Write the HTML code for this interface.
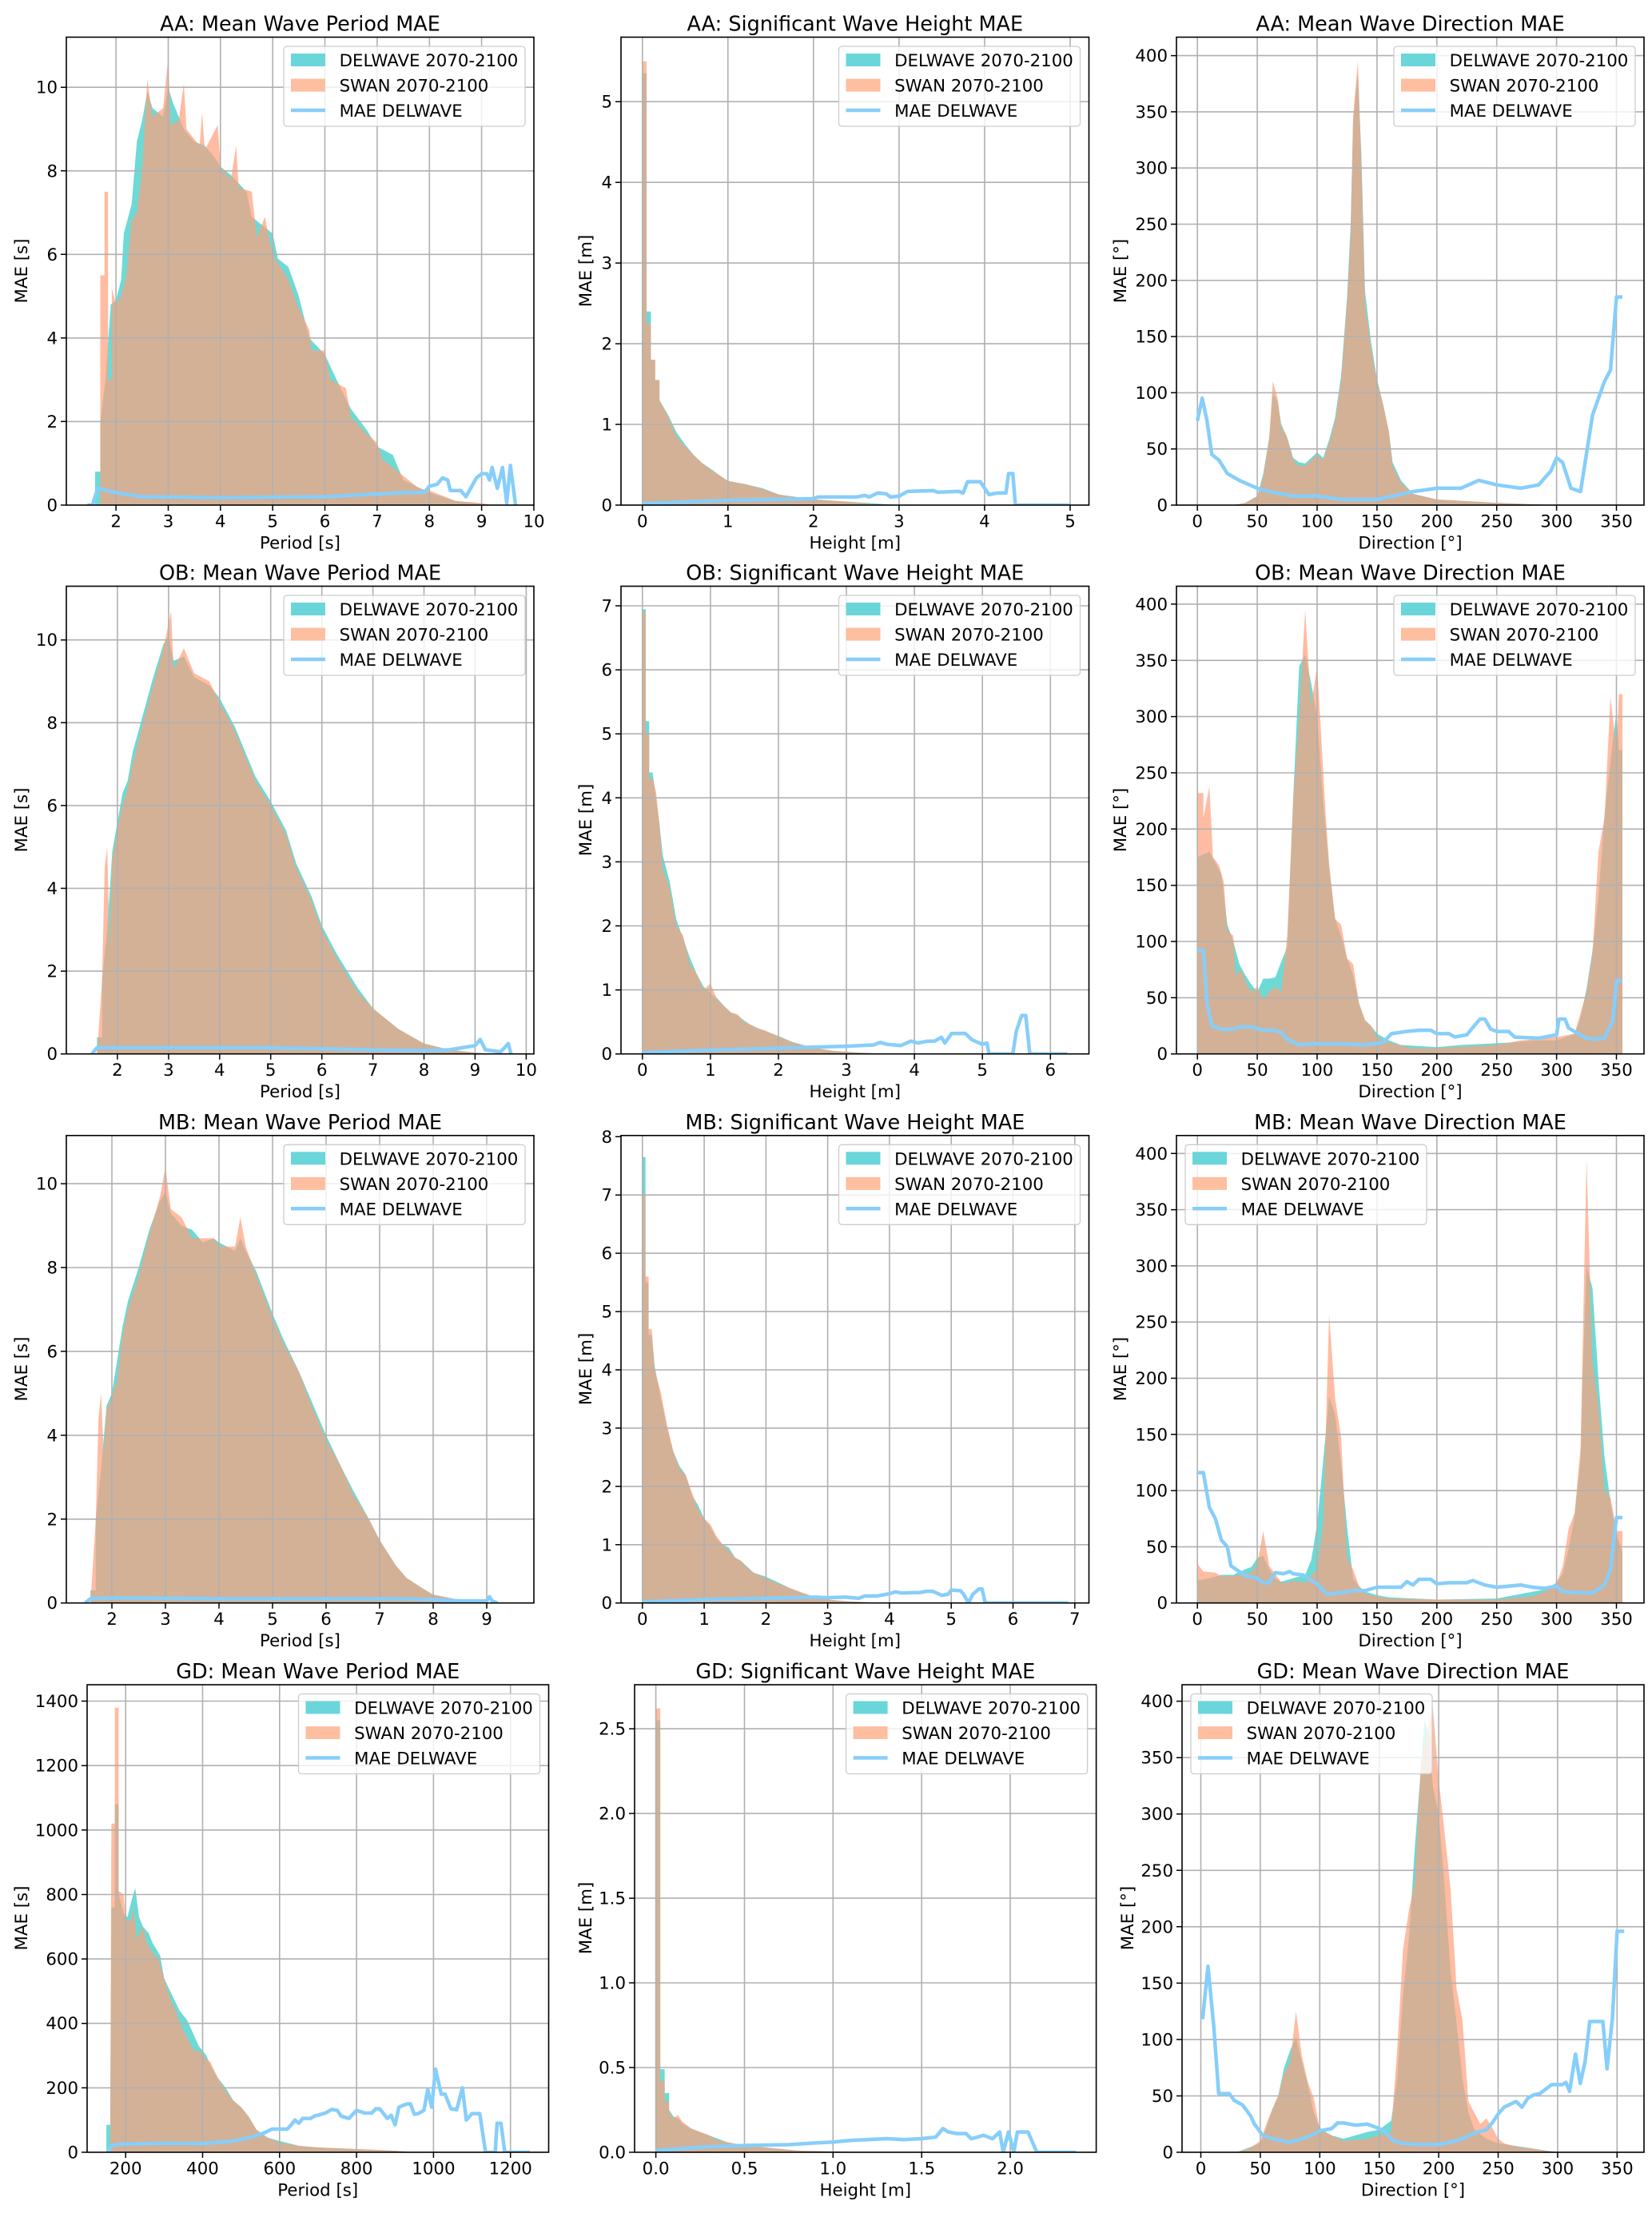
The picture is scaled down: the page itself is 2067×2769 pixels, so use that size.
<!DOCTYPE html>
<html><head><meta charset="utf-8"><style>
html,body{margin:0;padding:0;background:#fff}
svg text{font-family:"DejaVu Sans","Liberation Sans",sans-serif;fill:#000}
.t{font-size:25.5px;text-anchor:middle}
.xt{font-size:21.3px;text-anchor:middle}
.yt{font-size:21.3px;text-anchor:end}
.lb{font-size:21.3px;text-anchor:middle}
.lg{font-size:21.3px}
.g{stroke:#b0b0b0;stroke-width:1.6;fill:none}
.tk{stroke:#000;stroke-width:1.5;fill:none}
.sp{stroke:#000;stroke-width:1.6;fill:none}
.d{fill:#48d1cc;fill-opacity:.8}
.s{fill:#ffa07a;fill-opacity:.7}
.ln{fill:none;stroke:#87cefa;stroke-width:4.5;stroke-linejoin:round}
.lb0{fill:#fff;fill-opacity:.8;stroke:#cccccc;stroke-width:1.3}
</style></head><body>
<svg xmlns="http://www.w3.org/2000/svg" width="2067" height="2764" viewBox="0 0 2067 2764">

<!-- ============ P1 AA period ============ -->
<svg x="83" y="46.5" width="585" height="585.5" viewBox="1.05 -11.2 8.95 11.2" preserveAspectRatio="none"><g transform="scale(1,-1)">
<path class="d" d="M1.6,0 L1.6,0.8 1.7,0.8 1.7,2.0 1.8,3.0 1.9,4.8 2.0,4.9 2.1,5.4 2.15,6.5 2.3,7.2 2.4,8.7 2.5,9.2 2.6,9.9 2.7,9.5 2.9,9.3 3.0,10.0 3.1,9.6 3.3,9.0 3.5,8.7 3.7,8.6 3.9,8.3 4.0,8.1 4.2,7.9 4.5,7.5 4.6,6.9 5.0,6.5 5.1,5.9 5.3,5.7 5.5,5.0 5.7,4.0 6.0,3.6 6.3,2.8 6.5,2.3 6.8,1.8 7.0,1.4 7.3,1.2 7.5,0.6 8.0,0.3 8.5,0.1 9.0,0.03 9.2,0 Z"/>
<path class="s" d="M1.7,0 L1.7,5.5 1.78,5.5 1.78,7.5 1.85,7.5 1.85,3 1.92,3 1.92,5.2 2.0,4.8 2.1,5.0 2.2,5.5 2.3,6.8 2.4,7.0 2.5,8.0 2.6,10.2 2.7,9.3 2.9,9.5 3.0,10.7 3.05,9.1 3.2,9.2 3.3,10.1 3.35,9.0 3.6,8.6 3.65,9.4 3.7,8.5 3.95,9.1 4.0,8.1 4.2,7.8 4.3,8.6 4.35,7.6 4.6,7.5 4.7,6.4 4.85,6.9 5.0,6.0 5.3,5.4 5.5,4.7 5.7,4.2 5.75,3.7 6.0,3.7 6.1,3.0 6.4,2.8 6.5,2.1 6.8,1.7 7.0,1.5 7.1,1.1 7.3,0.9 7.5,0.7 7.8,0.4 8.0,0.35 8.5,0.1 9.0,0.05 9.2,0 Z"/>
</g></svg>
<path class="g" d="M145.1 46.5V632M210.5 46.5V632M275.8 46.5V632M341.2 46.5V632M406.5 46.5V632M471.9 46.5V632M537.3 46.5V632M602.6 46.5V632M83 527.4H668M83 422.9H668M83 318.3H668M83 213.8H668M83 109.2H668"/>
<svg x="83" y="46.5" width="585" height="585.5" viewBox="1.05 -11.2 8.95 11.2" preserveAspectRatio="none"><g transform="scale(1,-1)">
<polyline class="ln" vector-effect="non-scaling-stroke" points="1.45,0 1.55,0 1.6,0.2 1.65,0.4 2,0.3 2.5,0.2 4,0.18 6,0.2 7.5,0.3 7.9,0.3 8.0,0.45 8.15,0.5 8.25,0.65 8.35,0.6 8.4,0.35 8.6,0.35 8.7,0.2 8.9,0.65 9.0,0.75 9.1,0.75 9.15,0.6 9.2,0.9 9.3,0.4 9.4,0.9 9.48,0.05 9.55,0.95 9.65,0"/>
</g></svg>
<rect class="sp" x="83" y="46.5" width="585" height="585.5"/>
<path class="tk" d="M145.1 632v7M210.5 632v7M275.8 632v7M341.2 632v7M406.5 632v7M471.9 632v7M537.3 632v7M602.6 632v7M668 632v7M83 632h-7M83 527.4h-7M83 422.9h-7M83 318.3h-7M83 213.8h-7M83 109.2h-7"/>
<text class="xt" x="145.1" y="659.5">2</text><text class="xt" x="210.5" y="659.5">3</text><text class="xt" x="275.8" y="659.5">4</text><text class="xt" x="341.2" y="659.5">5</text><text class="xt" x="406.5" y="659.5">6</text><text class="xt" x="471.9" y="659.5">7</text><text class="xt" x="537.3" y="659.5">8</text><text class="xt" x="602.6" y="659.5">9</text><text class="xt" x="668" y="659.5">10</text>
<text class="yt" x="72" y="639.5">0</text><text class="yt" x="72" y="534.9">2</text><text class="yt" x="72" y="430.4">4</text><text class="yt" x="72" y="325.8">6</text><text class="yt" x="72" y="221.3">8</text><text class="yt" x="72" y="116.7">10</text>
<text class="t" x="375.5" y="38.5">AA: Mean Wave Period MAE</text>
<text class="lb" x="375.5" y="686.5">Period [s]</text>
<text class="lb" transform="translate(27,339) rotate(-90)" dy="7">MAE [s]</text>
<g transform="translate(355,58)"><rect class="lb0" width="302" height="100" rx="4"/><rect x="9" y="9" width="43" height="16" fill="#6ad6d9"/><rect x="9" y="40.6" width="43" height="16" fill="#fdbf9f"/><path d="M9 80H52" stroke="#87cefa" stroke-width="4.5"/><text class="lg" x="69.6" y="25">DELWAVE 2070-2100</text><text class="lg" x="69.6" y="56.6">SWAN 2070-2100</text><text class="lg" x="69.6" y="88">MAE DELWAVE</text></g>

<!-- ============ P2 AA height ============ -->
<svg x="777" y="46.5" width="585.5" height="585.5" viewBox="-0.25 -5.8 5.47 5.8" preserveAspectRatio="none"><g transform="scale(1,-1)">
<path class="d" d="M0,0 L0,5.35 0.05,5.35 0.05,2.4 0.1,2.4 0.1,1.8 0.15,1.8 0.15,1.55 0.2,1.55 0.2,1.3 0.3,1.12 0.4,0.9 0.5,0.75 0.6,0.62 0.7,0.52 0.8,0.45 0.9,0.37 1.0,0.3 1.2,0.26 1.4,0.21 1.6,0.13 1.8,0.1 2.0,0.07 2.3,0.05 2.6,0.03 3.0,0 Z"/>
<path class="s" d="M0,0 L0,5.5 0.05,5.5 0.05,2.25 0.1,2.25 0.1,1.8 0.15,1.8 0.15,1.55 0.2,1.55 0.2,1.3 0.3,1.1 0.4,0.85 0.5,0.73 0.6,0.62 0.7,0.52 0.8,0.44 0.9,0.37 1.0,0.3 1.2,0.26 1.4,0.2 1.6,0.13 1.8,0.1 2.0,0.07 2.3,0.05 2.6,0.02 3.0,0 Z"/>
</g></svg>
<path class="g" d="M803.8 46.5V632M910.8 46.5V632M1017.8 46.5V632M1124.9 46.5V632M1231.9 46.5V632M1339 46.5V632M777 531H1362.5M777 430.1H1362.5M777 329.1H1362.5M777 228.2H1362.5M777 127.2H1362.5"/>
<svg x="777" y="46.5" width="585.5" height="585.5" viewBox="-0.25 -5.8 5.47 5.8" preserveAspectRatio="none"><g transform="scale(1,-1)">
<polyline class="ln" vector-effect="non-scaling-stroke" points="0,0.02 1,0.06 2,0.08 2.05,0.1 2.5,0.1 2.6,0.12 2.65,0.1 2.75,0.15 2.85,0.14 2.9,0.1 3.0,0.11 3.1,0.17 3.4,0.18 3.45,0.16 3.7,0.17 3.75,0.15 3.8,0.29 3.95,0.29 4.05,0.13 4.15,0.15 4.25,0.15 4.28,0.39 4.33,0.39 4.36,0 5.0,0"/>
</g></svg>
<rect class="sp" x="777" y="46.5" width="585.5" height="585.5"/>
<path class="tk" d="M803.8 632v7M910.8 632v7M1017.8 632v7M1124.9 632v7M1231.9 632v7M1339 632v7M777 632h-7M777 531h-7M777 430.1h-7M777 329.1h-7M777 228.2h-7M777 127.2h-7"/>
<text class="xt" x="803.8" y="659.5">0</text><text class="xt" x="910.8" y="659.5">1</text><text class="xt" x="1017.8" y="659.5">2</text><text class="xt" x="1124.9" y="659.5">3</text><text class="xt" x="1231.9" y="659.5">4</text><text class="xt" x="1339" y="659.5">5</text>
<text class="yt" x="766" y="639.5">0</text><text class="yt" x="766" y="538.5">1</text><text class="yt" x="766" y="437.6">2</text><text class="yt" x="766" y="336.6">3</text><text class="yt" x="766" y="235.7">4</text><text class="yt" x="766" y="134.7">5</text>
<text class="t" x="1069.8" y="38.5">AA: Significant Wave Height MAE</text>
<text class="lb" x="1069.8" y="686.5">Height [m]</text>
<text class="lb" transform="translate(733,339) rotate(-90)" dy="7">MAE [m]</text>
<g transform="translate(1049.5,58)"><rect class="lb0" width="302" height="100" rx="4"/><rect x="9" y="9" width="43" height="16" fill="#6ad6d9"/><rect x="9" y="40.6" width="43" height="16" fill="#fdbf9f"/><path d="M9 80H52" stroke="#87cefa" stroke-width="4.5"/><text class="lg" x="69.6" y="25">DELWAVE 2070-2100</text><text class="lg" x="69.6" y="56.6">SWAN 2070-2100</text><text class="lg" x="69.6" y="88">MAE DELWAVE</text></g>

<!-- ============ P3 AA direction ============ -->
<svg x="1472" y="46.5" width="585" height="585.5" viewBox="-17.5 -416 390.5 416" preserveAspectRatio="none"><g transform="scale(1,-1)">
<path class="d" d="M30,0 L40,2 50,8 55,28 60,60 63,100 67,92 70,72 75,60 80,42 85,38 90,37 95,42 100,47 105,42 110,58 115,78 120,115 125,185 128,250 130,340 134,385 137,310 140,190 145,145 150,112 155,90 160,65 163,38 170,22 180,10 200,5 250,2 300,0 Z"/>
<path class="s" d="M30,0 L40,2 50,8 55,25 60,60 63,110 67,95 70,70 75,60 80,40 85,35 90,35 95,40 100,45 105,40 110,55 115,75 120,110 125,180 128,240 130,345 134,395 137,300 140,180 145,140 150,110 155,90 160,65 163,35 170,20 180,10 200,5 250,2 300,0 Z"/>
</g></svg>
<path class="g" d="M1498.2 46.5V632M1573.1 46.5V632M1648 46.5V632M1722.9 46.5V632M1797.8 46.5V632M1872.7 46.5V632M1947.6 46.5V632M2022.5 46.5V632M1472 561.7H2057M1472 491.4H2057M1472 421.1H2057M1472 350.8H2057M1472 280.5H2057M1472 210.2H2057M1472 139.9H2057M1472 69.6H2057"/>
<svg x="1472" y="46.5" width="585" height="585.5" viewBox="-17.5 -416 390.5 416" preserveAspectRatio="none"><g transform="scale(1,-1)">
<polyline class="ln" vector-effect="non-scaling-stroke" points="0,75 4,95 8,75 12,45 18,40 25,28 35,22 50,15 60,12 80,8 100,8 120,5 150,5 180,12 200,15 220,15 235,22 250,18 270,15 285,18 295,30 300,42 305,38 312,15 320,12 330,80 340,110 345,120 350,185 355,185"/>
</g></svg>
<rect class="sp" x="1472" y="46.5" width="585" height="585.5"/>
<path class="tk" d="M1498.2 632v7M1573.1 632v7M1648 632v7M1722.9 632v7M1797.8 632v7M1872.7 632v7M1947.6 632v7M2022.5 632v7M1472 632h-7M1472 561.7h-7M1472 491.4h-7M1472 421.1h-7M1472 350.8h-7M1472 280.5h-7M1472 210.2h-7M1472 139.9h-7M1472 69.6h-7"/>
<text class="xt" x="1498.2" y="659.5">0</text><text class="xt" x="1573.1" y="659.5">50</text><text class="xt" x="1648" y="659.5">100</text><text class="xt" x="1722.9" y="659.5">150</text><text class="xt" x="1797.8" y="659.5">200</text><text class="xt" x="1872.7" y="659.5">250</text><text class="xt" x="1947.6" y="659.5">300</text><text class="xt" x="2022.5" y="659.5">350</text>
<text class="yt" x="1461" y="639.5">0</text><text class="yt" x="1461" y="569.2">50</text><text class="yt" x="1461" y="498.9">100</text><text class="yt" x="1461" y="428.6">150</text><text class="yt" x="1461" y="358.3">200</text><text class="yt" x="1461" y="288">250</text><text class="yt" x="1461" y="217.7">300</text><text class="yt" x="1461" y="147.4">350</text><text class="yt" x="1461" y="77.1">400</text>
<text class="t" x="1764.5" y="38.5">AA: Mean Wave Direction MAE</text>
<text class="lb" x="1764.5" y="686.5">Direction [°]</text>
<text class="lb" transform="translate(1402,339) rotate(-90)" dy="7">MAE [°]</text>
<g transform="translate(1744,58)"><rect class="lb0" width="302" height="100" rx="4"/><rect x="9" y="9" width="43" height="16" fill="#6ad6d9"/><rect x="9" y="40.6" width="43" height="16" fill="#fdbf9f"/><path d="M9 80H52" stroke="#87cefa" stroke-width="4.5"/><text class="lg" x="69.6" y="25">DELWAVE 2070-2100</text><text class="lg" x="69.6" y="56.6">SWAN 2070-2100</text><text class="lg" x="69.6" y="88">MAE DELWAVE</text></g>

<!-- ============ P4 OB period ============ -->
<svg x="83" y="733.5" width="585" height="585.2" viewBox="1.0 -11.3 9.15 11.3" preserveAspectRatio="none"><g transform="scale(1,-1)">
<path class="d" d="M1.6,0 L1.6,0.4 1.7,0.4 1.7,1.8 1.8,3.0 1.9,4.9 2.0,5.6 2.1,6.3 2.2,6.6 2.3,7.3 2.5,8.2 2.7,9.1 2.9,9.9 3.0,10.1 3.1,9.5 3.3,9.6 3.5,9.1 3.8,8.9 4.0,8.6 4.3,7.9 4.5,7.3 4.7,6.7 5.0,6.1 5.3,5.4 5.5,4.6 5.8,3.8 6.0,3.1 6.3,2.4 6.7,1.6 7.0,1.1 7.5,0.6 8,0.25 8.5,0.1 9,0.03 9.3,0 Z"/>
<path class="s" d="M1.6,0 L1.7,1.8 1.75,4.5 1.8,5 1.85,2.5 1.9,4.7 2.0,5.4 2.1,6.0 2.2,6.4 2.3,7.0 2.5,8.0 2.7,8.9 2.9,9.8 3.0,10.4 3.05,10.7 3.1,9.3 3.3,9.8 3.5,9.2 3.8,9.0 4.0,8.5 4.3,7.8 4.5,7.2 4.7,6.6 5.0,6.0 5.3,5.3 5.5,4.5 5.8,3.7 6.0,3.0 6.3,2.3 6.7,1.5 7.0,1.1 7.5,0.6 8,0.25 8.5,0.1 9,0.03 9.3,0 Z"/>
</g></svg>
<path class="g" d="M146.9 733.5V1318.7M210.9 733.5V1318.7M274.8 733.5V1318.7M338.7 733.5V1318.7M402.7 733.5V1318.7M466.6 733.5V1318.7M530.5 733.5V1318.7M594.4 733.5V1318.7M658.4 733.5V1318.7M83 1215.1H668M83 1111.5H668M83 1007.9H668M83 904.3H668M83 800.7H668"/>
<svg x="83" y="733.5" width="585" height="585.2" viewBox="1.0 -11.3 9.15 11.3" preserveAspectRatio="none"><g transform="scale(1,-1)">
<polyline class="ln" vector-effect="non-scaling-stroke" points="1.5,0 1.6,0.15 2,0.15 5,0.15 7,0.1 8,0.08 8.5,0.1 9,0.2 9.1,0.35 9.2,0.1 9.5,0.05 9.65,0.25 9.7,0"/>
</g></svg>
<rect class="sp" x="83" y="733.5" width="585" height="585.2"/>
<path class="tk" d="M146.9 1318.7v7M210.9 1318.7v7M274.8 1318.7v7M338.7 1318.7v7M402.7 1318.7v7M466.6 1318.7v7M530.5 1318.7v7M594.4 1318.7v7M658.4 1318.7v7M83 1318.7h-7M83 1215.1h-7M83 1111.5h-7M83 1007.9h-7M83 904.3h-7M83 800.7h-7"/>
<text class="xt" x="146.9" y="1346.2">2</text><text class="xt" x="210.9" y="1346.2">3</text><text class="xt" x="274.8" y="1346.2">4</text><text class="xt" x="338.7" y="1346.2">5</text><text class="xt" x="402.7" y="1346.2">6</text><text class="xt" x="466.6" y="1346.2">7</text><text class="xt" x="530.5" y="1346.2">8</text><text class="xt" x="594.4" y="1346.2">9</text><text class="xt" x="658.4" y="1346.2">10</text>
<text class="yt" x="72" y="1326.2">0</text><text class="yt" x="72" y="1222.6">2</text><text class="yt" x="72" y="1119">4</text><text class="yt" x="72" y="1015.4">6</text><text class="yt" x="72" y="911.8">8</text><text class="yt" x="72" y="808.2">10</text>
<text class="t" x="375.5" y="725.5">OB: Mean Wave Period MAE</text>
<text class="lb" x="375.5" y="1373.2">Period [s]</text>
<text class="lb" transform="translate(27,1026) rotate(-90)" dy="7">MAE [s]</text>
<g transform="translate(355,745)"><rect class="lb0" width="302" height="100" rx="4"/><rect x="9" y="9" width="43" height="16" fill="#6ad6d9"/><rect x="9" y="40.6" width="43" height="16" fill="#fdbf9f"/><path d="M9 80H52" stroke="#87cefa" stroke-width="4.5"/><text class="lg" x="69.6" y="25">DELWAVE 2070-2100</text><text class="lg" x="69.6" y="56.6">SWAN 2070-2100</text><text class="lg" x="69.6" y="88">MAE DELWAVE</text></g>

<!-- ============ P5 OB height ============ -->
<svg x="777" y="733.5" width="585.5" height="585.2" viewBox="-0.315 -7.31 6.885 7.31" preserveAspectRatio="none"><g transform="scale(1,-1)">
<path class="d" d="M0,0 L0,6.95 0.05,6.95 0.05,5.2 0.1,5.2 0.1,4.4 0.15,4.4 0.2,4.0 0.25,3.6 0.3,3.1 0.4,2.7 0.5,2.1 0.6,1.8 0.7,1.5 0.8,1.25 0.9,1.05 1.0,0.95 1.1,0.87 1.2,0.75 1.3,0.65 1.4,0.6 1.5,0.52 1.6,0.45 1.7,0.4 1.8,0.36 2.0,0.28 2.2,0.19 2.5,0.1 2.8,0.05 3.2,0.02 3.6,0 Z"/>
<path class="s" d="M0,0 L0,6.9 0.05,6.9 0.05,5.0 0.1,5.0 0.1,4.3 0.15,4.3 0.2,4.1 0.25,3.6 0.3,2.9 0.4,2.6 0.5,2.0 0.6,1.85 0.7,1.4 0.8,1.25 0.9,1.0 1.0,1.1 1.1,0.85 1.2,0.75 1.3,0.65 1.4,0.62 1.5,0.5 1.6,0.45 1.7,0.4 1.8,0.37 2.0,0.27 2.2,0.18 2.5,0.1 2.8,0.05 3.2,0.02 3.6,0 Z"/>
</g></svg>
<path class="g" d="M803.8 733.5V1318.7M888.9 733.5V1318.7M974 733.5V1318.7M1059 733.5V1318.7M1144.1 733.5V1318.7M1229.2 733.5V1318.7M1314.3 733.5V1318.7M777 1238.6H1362.5M777 1158.5H1362.5M777 1078.4H1362.5M777 998.3H1362.5M777 918.2H1362.5M777 838.1H1362.5M777 758H1362.5"/>
<svg x="777" y="733.5" width="585.5" height="585.2" viewBox="-0.315 -7.31 6.885 7.31" preserveAspectRatio="none"><g transform="scale(1,-1)">
<polyline class="ln" vector-effect="non-scaling-stroke" points="0,0.02 1,0.06 2,0.09 3,0.12 3.4,0.14 3.5,0.18 3.6,0.15 3.8,0.13 3.95,0.2 4.05,0.17 4.2,0.2 4.3,0.2 4.4,0.26 4.45,0.17 4.55,0.32 4.75,0.32 4.85,0.22 5.0,0.15 5.07,0.17 5.1,0 5.45,0 5.5,0.35 5.58,0.6 5.64,0.6 5.7,0 6.25,0"/>
</g></svg>
<rect class="sp" x="777" y="733.5" width="585.5" height="585.2"/>
<path class="tk" d="M803.8 1318.7v7M888.9 1318.7v7M974 1318.7v7M1059 1318.7v7M1144.1 1318.7v7M1229.2 1318.7v7M1314.3 1318.7v7M777 1318.7h-7M777 1238.6h-7M777 1158.5h-7M777 1078.4h-7M777 998.3h-7M777 918.2h-7M777 838.1h-7M777 758h-7"/>
<text class="xt" x="803.8" y="1346.2">0</text><text class="xt" x="888.9" y="1346.2">1</text><text class="xt" x="974" y="1346.2">2</text><text class="xt" x="1059" y="1346.2">3</text><text class="xt" x="1144.1" y="1346.2">4</text><text class="xt" x="1229.2" y="1346.2">5</text><text class="xt" x="1314.3" y="1346.2">6</text>
<text class="yt" x="766" y="1326.2">0</text><text class="yt" x="766" y="1246.1">1</text><text class="yt" x="766" y="1166">2</text><text class="yt" x="766" y="1085.9">3</text><text class="yt" x="766" y="1005.8">4</text><text class="yt" x="766" y="925.7">5</text><text class="yt" x="766" y="845.6">6</text><text class="yt" x="766" y="765.5">7</text>
<text class="t" x="1069.8" y="725.5">OB: Significant Wave Height MAE</text>
<text class="lb" x="1069.8" y="1373.2">Height [m]</text>
<text class="lb" transform="translate(733,1026) rotate(-90)" dy="7">MAE [m]</text>
<g transform="translate(1049.5,745)"><rect class="lb0" width="302" height="100" rx="4"/><rect x="9" y="9" width="43" height="16" fill="#6ad6d9"/><rect x="9" y="40.6" width="43" height="16" fill="#fdbf9f"/><path d="M9 80H52" stroke="#87cefa" stroke-width="4.5"/><text class="lg" x="69.6" y="25">DELWAVE 2070-2100</text><text class="lg" x="69.6" y="56.6">SWAN 2070-2100</text><text class="lg" x="69.6" y="88">MAE DELWAVE</text></g>

<!-- ============ P6 OB direction ============ -->
<svg x="1472" y="733.5" width="585" height="585.2" viewBox="-17.5 -416 390.5 416" preserveAspectRatio="none"><g transform="scale(1,-1)">
<path class="d" d="M0,0 L0,175 10,180 15,170 20,160 25,115 30,100 35,80 40,70 45,62 50,55 55,67 60,67 65,68 70,82 75,95 80,228 85,345 90,355 95,330 100,300 105,225 110,165 115,120 120,105 125,85 130,70 135,45 140,30 145,25 150,18 160,12 170,8 200,6 220,8 260,10 280,12 300,12 315,18 320,32 325,58 330,92 335,140 340,212 345,260 350,305 352,270 355,270 355,0 Z"/>
<path class="s" d="M0,0 L0,232 5,232 5,210 10,238 13,175 18,168 22,153 25,110 30,105 32,70 37,75 40,65 45,55 50,60 55,48 60,55 65,60 70,55 75,105 80,225 85,300 90,395 95,310 100,345 103,290 107,215 110,170 115,120 120,115 125,85 130,80 135,45 140,30 145,25 150,15 160,10 180,5 200,5 250,8 270,12 300,15 315,18 325,55 330,90 335,180 340,210 345,318 350,270 352,320 355,320 355,0 Z"/>
</g></svg>
<path class="g" d="M1498.2 733.5V1318.7M1573.1 733.5V1318.7M1648 733.5V1318.7M1722.9 733.5V1318.7M1797.8 733.5V1318.7M1872.7 733.5V1318.7M1947.6 733.5V1318.7M2022.5 733.5V1318.7M1472 1248.4H2057M1472 1178H2057M1472 1107.7H2057M1472 1037.3H2057M1472 967H2057M1472 896.6H2057M1472 826.3H2057M1472 755.9H2057"/>
<svg x="1472" y="733.5" width="585" height="585.2" viewBox="-17.5 -416 390.5 416" preserveAspectRatio="none"><g transform="scale(1,-1)">
<polyline class="ln" vector-effect="non-scaling-stroke" points="0,92 5,92 8,45 12,25 20,22 30,22 35,24 45,24 55,21 65,21 70,19 75,13 85,8 95,9 120,9 140,8 155,10 162,18 175,20 185,21 195,21 200,18 210,18 215,15 225,17 232,26 236,31 240,31 245,22 250,20 260,20 265,15 285,14 300,17 302,31 307,31 310,23 318,18 325,14 330,13 340,14 347,30 350,65 355,65"/>
</g></svg>
<rect class="sp" x="1472" y="733.5" width="585" height="585.2"/>
<path class="tk" d="M1498.2 1318.7v7M1573.1 1318.7v7M1648 1318.7v7M1722.9 1318.7v7M1797.8 1318.7v7M1872.7 1318.7v7M1947.6 1318.7v7M2022.5 1318.7v7M1472 1318.7h-7M1472 1248.4h-7M1472 1178h-7M1472 1107.7h-7M1472 1037.3h-7M1472 967h-7M1472 896.6h-7M1472 826.3h-7M1472 755.9h-7"/>
<text class="xt" x="1498.2" y="1346.2">0</text><text class="xt" x="1573.1" y="1346.2">50</text><text class="xt" x="1648" y="1346.2">100</text><text class="xt" x="1722.9" y="1346.2">150</text><text class="xt" x="1797.8" y="1346.2">200</text><text class="xt" x="1872.7" y="1346.2">250</text><text class="xt" x="1947.6" y="1346.2">300</text><text class="xt" x="2022.5" y="1346.2">350</text>
<text class="yt" x="1461" y="1326.2">0</text><text class="yt" x="1461" y="1255.9">50</text><text class="yt" x="1461" y="1185.5">100</text><text class="yt" x="1461" y="1115.2">150</text><text class="yt" x="1461" y="1044.8">200</text><text class="yt" x="1461" y="974.5">250</text><text class="yt" x="1461" y="904.1">300</text><text class="yt" x="1461" y="833.8">350</text><text class="yt" x="1461" y="763.4">400</text>
<text class="t" x="1764.5" y="725.5">OB: Mean Wave Direction MAE</text>
<text class="lb" x="1764.5" y="1373.2">Direction [°]</text>
<text class="lb" transform="translate(1402,1026) rotate(-90)" dy="7">MAE [°]</text>
<g transform="translate(1744,745)"><rect class="lb0" width="302" height="100" rx="4"/><rect x="9" y="9" width="43" height="16" fill="#6ad6d9"/><rect x="9" y="40.6" width="43" height="16" fill="#fdbf9f"/><path d="M9 80H52" stroke="#87cefa" stroke-width="4.5"/><text class="lg" x="69.6" y="25">DELWAVE 2070-2100</text><text class="lg" x="69.6" y="56.6">SWAN 2070-2100</text><text class="lg" x="69.6" y="88">MAE DELWAVE</text></g>

<!-- ============ P7 MB period ============ -->
<svg x="83" y="1420.8" width="585" height="584.9" viewBox="1.15 -11.15 8.73 11.15" preserveAspectRatio="none"><g transform="scale(1,-1)">
<path class="d" d="M1.6,0 L1.6,0.3 1.7,0.3 1.7,2 1.8,3.2 1.9,4.7 2.0,5.0 2.1,5.8 2.2,6.6 2.3,7.2 2.5,8.0 2.7,8.9 2.9,9.6 3.0,9.8 3.1,9.3 3.3,9.0 3.5,8.9 3.7,8.6 3.9,8.7 4.0,8.6 4.3,8.4 4.4,8.7 4.5,8.4 4.7,7.9 5.0,6.9 5.2,6.3 5.5,5.5 5.7,4.9 6.0,4.0 6.3,3.2 6.5,2.7 6.8,2.0 7.0,1.5 7.3,0.9 7.5,0.6 7.8,0.35 8.0,0.2 8.5,0.07 9.0,0 Z"/>
<path class="s" d="M1.6,0 L1.7,2 1.75,4.4 1.8,5.0 1.85,3.5 1.9,4.6 2.0,4.9 2.1,5.3 2.2,6.4 2.3,7.0 2.5,7.8 2.7,8.8 2.9,9.7 3.0,10.4 3.1,9.4 3.3,9.2 3.5,8.7 3.7,8.7 3.9,8.7 4.0,8.5 4.3,8.5 4.4,9.2 4.5,8.5 4.7,7.8 5.0,6.8 5.2,6.2 5.5,5.5 5.7,4.8 6.0,3.9 6.3,3.2 6.5,2.6 6.8,2.0 7.0,1.5 7.3,0.9 7.5,0.6 7.8,0.35 8.0,0.2 8.5,0.07 9.0,0 Z"/>
</g></svg>
<path class="g" d="M140 1420.8V2005.7M207 1420.8V2005.7M274 1420.8V2005.7M341 1420.8V2005.7M408 1420.8V2005.7M475 1420.8V2005.7M542 1420.8V2005.7M609 1420.8V2005.7M83 1900.8H668M83 1795.9H668M83 1690.9H668M83 1586H668M83 1481.1H668"/>
<svg x="83" y="1420.8" width="585" height="584.9" viewBox="1.15 -11.15 8.73 11.15" preserveAspectRatio="none"><g transform="scale(1,-1)">
<polyline class="ln" vector-effect="non-scaling-stroke" points="1.5,0 1.6,0.1 2,0.12 4,0.1 6,0.1 7.5,0.1 8,0.08 8.5,0.05 9.0,0.05 9.05,0.15 9.1,0.05 9.2,0"/>
</g></svg>
<rect class="sp" x="83" y="1420.8" width="585" height="584.9"/>
<path class="tk" d="M140 2005.7v7M207 2005.7v7M274 2005.7v7M341 2005.7v7M408 2005.7v7M475 2005.7v7M542 2005.7v7M609 2005.7v7M83 2005.7h-7M83 1900.8h-7M83 1795.9h-7M83 1690.9h-7M83 1586h-7M83 1481.1h-7"/>
<text class="xt" x="140" y="2033.2">2</text><text class="xt" x="207" y="2033.2">3</text><text class="xt" x="274" y="2033.2">4</text><text class="xt" x="341" y="2033.2">5</text><text class="xt" x="408" y="2033.2">6</text><text class="xt" x="475" y="2033.2">7</text><text class="xt" x="542" y="2033.2">8</text><text class="xt" x="609" y="2033.2">9</text>
<text class="yt" x="72" y="2013.2">0</text><text class="yt" x="72" y="1908.3">2</text><text class="yt" x="72" y="1803.4">4</text><text class="yt" x="72" y="1698.4">6</text><text class="yt" x="72" y="1593.5">8</text><text class="yt" x="72" y="1488.6">10</text>
<text class="t" x="375.5" y="1412.8">MB: Mean Wave Period MAE</text>
<text class="lb" x="375.5" y="2060.2">Period [s]</text>
<text class="lb" transform="translate(27,1713) rotate(-90)" dy="7">MAE [s]</text>
<g transform="translate(355,1432.3)"><rect class="lb0" width="302" height="100" rx="4"/><rect x="9" y="9" width="43" height="16" fill="#6ad6d9"/><rect x="9" y="40.6" width="43" height="16" fill="#fdbf9f"/><path d="M9 80H52" stroke="#87cefa" stroke-width="4.5"/><text class="lg" x="69.6" y="25">DELWAVE 2070-2100</text><text class="lg" x="69.6" y="56.6">SWAN 2070-2100</text><text class="lg" x="69.6" y="88">MAE DELWAVE</text></g>

<!-- ============ P8 MB height ============ -->
<svg x="777" y="1420.8" width="585.5" height="584.9" viewBox="-0.347 -8.02 7.577 8.02" preserveAspectRatio="none"><g transform="scale(1,-1)">
<path class="d" d="M0,0 L0,7.65 0.05,7.65 0.05,5.5 0.1,5.5 0.1,4.6 0.15,4.6 0.2,4.05 0.3,3.5 0.4,3.0 0.5,2.6 0.6,2.35 0.7,2.2 0.8,1.85 0.9,1.68 1.0,1.45 1.1,1.3 1.2,1.1 1.3,1.0 1.4,0.95 1.5,0.78 1.6,0.72 1.7,0.62 1.8,0.52 2.0,0.45 2.2,0.35 2.4,0.25 2.6,0.17 2.8,0.1 3.0,0.06 3.3,0.03 3.7,0.01 4.0,0 Z"/>
<path class="s" d="M0,0 L0,7.0 0.05,7.0 0.05,5.6 0.1,5.6 0.1,4.7 0.15,4.7 0.2,4.0 0.3,3.6 0.4,3.05 0.5,2.6 0.6,2.3 0.7,2.2 0.8,1.9 0.9,1.6 1.0,1.45 1.1,1.35 1.2,1.15 1.3,1.0 1.4,0.9 1.5,0.78 1.6,0.72 1.7,0.6 1.8,0.52 2.0,0.42 2.2,0.33 2.4,0.25 2.6,0.17 2.8,0.1 3.0,0.06 3.3,0.03 3.7,0.01 4.0,0 Z"/>
</g></svg>
<path class="g" d="M803.8 1420.8V2005.7M881.1 1420.8V2005.7M958.4 1420.8V2005.7M1035.6 1420.8V2005.7M1112.9 1420.8V2005.7M1190.2 1420.8V2005.7M1267.5 1420.8V2005.7M1344.8 1420.8V2005.7M777 1932.8H1362.5M777 1859.8H1362.5M777 1786.9H1362.5M777 1714H1362.5M777 1641.1H1362.5M777 1568.1H1362.5M777 1495.2H1362.5"/>
<svg x="777" y="1420.8" width="585.5" height="584.9" viewBox="-0.347 -8.02 7.577 8.02" preserveAspectRatio="none"><g transform="scale(1,-1)">
<polyline class="ln" vector-effect="non-scaling-stroke" points="0,0.02 1,0.06 2,0.08 2.8,0.1 3.0,0.09 3.3,0.1 3.5,0.08 3.6,0.12 3.8,0.12 4.0,0.16 4.1,0.19 4.2,0.17 4.5,0.18 4.6,0.2 4.7,0.2 4.85,0.13 4.95,0.15 5.0,0.22 5.15,0.21 5.2,0.15 5.28,0 5.35,0.15 5.45,0.24 5.5,0.24 5.55,0 6.9,0"/>
</g></svg>
<rect class="sp" x="777" y="1420.8" width="585.5" height="584.9"/>
<path class="tk" d="M803.8 2005.7v7M881.1 2005.7v7M958.4 2005.7v7M1035.6 2005.7v7M1112.9 2005.7v7M1190.2 2005.7v7M1267.5 2005.7v7M1344.8 2005.7v7M777 2005.7h-7M777 1932.8h-7M777 1859.8h-7M777 1786.9h-7M777 1714h-7M777 1641.1h-7M777 1568.1h-7M777 1495.2h-7M777 1422.3h-7"/>
<text class="xt" x="803.8" y="2033.2">0</text><text class="xt" x="881.1" y="2033.2">1</text><text class="xt" x="958.4" y="2033.2">2</text><text class="xt" x="1035.6" y="2033.2">3</text><text class="xt" x="1112.9" y="2033.2">4</text><text class="xt" x="1190.2" y="2033.2">5</text><text class="xt" x="1267.5" y="2033.2">6</text><text class="xt" x="1344.8" y="2033.2">7</text>
<text class="yt" x="766" y="2013.2">0</text><text class="yt" x="766" y="1940.3">1</text><text class="yt" x="766" y="1867.3">2</text><text class="yt" x="766" y="1794.4">3</text><text class="yt" x="766" y="1721.5">4</text><text class="yt" x="766" y="1648.6">5</text><text class="yt" x="766" y="1575.6">6</text><text class="yt" x="766" y="1502.7">7</text><text class="yt" x="766" y="1429.8">8</text>
<text class="t" x="1069.8" y="1412.8">MB: Significant Wave Height MAE</text>
<text class="lb" x="1069.8" y="2060.2">Height [m]</text>
<text class="lb" transform="translate(733,1713) rotate(-90)" dy="7">MAE [m]</text>
<g transform="translate(1049.5,1432.3)"><rect class="lb0" width="302" height="100" rx="4"/><rect x="9" y="9" width="43" height="16" fill="#6ad6d9"/><rect x="9" y="40.6" width="43" height="16" fill="#fdbf9f"/><path d="M9 80H52" stroke="#87cefa" stroke-width="4.5"/><text class="lg" x="69.6" y="25">DELWAVE 2070-2100</text><text class="lg" x="69.6" y="56.6">SWAN 2070-2100</text><text class="lg" x="69.6" y="88">MAE DELWAVE</text></g>

<!-- ============ P9 MB direction ============ -->
<svg x="1472" y="1420.8" width="585" height="584.9" viewBox="-17.5 -416 390.5 416" preserveAspectRatio="none"><g transform="scale(1,-1)">
<path class="d" d="M0,0 L0,20 10,22 20,25 30,25 40,30 45,32 50,40 55,42 60,30 65,22 70,19 80,22 90,25 95,38 100,70 105,126 110,184 115,168 120,124 125,68 130,22 135,15 140,10 150,7 160,5 200,3 250,4 270,8 290,12 300,18 305,26 310,48 315,77 320,128 322,210 325,300 330,280 335,198 340,130 345,90 350,62 355,45 355,0 Z"/>
<path class="s" d="M0,0 L0,35 5,28 15,27 20,24 30,24 40,26 45,27 50,35 55,64 60,33 65,26 70,18 75,18 80,20 90,18 100,30 105,70 110,257 115,182 120,148 125,40 130,30 135,15 140,8 150,6 160,4 200,3 250,3 280,6 290,10 300,18 305,32 310,66 315,80 320,138 325,395 330,214 335,175 340,100 345,94 350,64 355,64 355,0 Z"/>
</g></svg>
<path class="g" d="M1498.2 1420.8V2005.7M1573.1 1420.8V2005.7M1648 1420.8V2005.7M1722.9 1420.8V2005.7M1797.8 1420.8V2005.7M1872.7 1420.8V2005.7M1947.6 1420.8V2005.7M2022.5 1420.8V2005.7M1472 1935.4H2057M1472 1865.1H2057M1472 1794.8H2057M1472 1724.5H2057M1472 1654.2H2057M1472 1583.9H2057M1472 1513.6H2057M1472 1443.3H2057"/>
<svg x="1472" y="1420.8" width="585" height="584.9" viewBox="-17.5 -416 390.5 416" preserveAspectRatio="none"><g transform="scale(1,-1)">
<polyline class="ln" vector-effect="non-scaling-stroke" points="0,116 5,116 10,85 15,75 20,56 25,50 28,33 35,28 40,24 50,22 55,18 60,18 65,27 72,26 77,28 80,26 88,25 100,17 108,8 120,9 130,11 140,11 150,14 170,14 175,19 180,16 185,21 195,21 200,17 210,18 225,18 230,20 240,16 250,14 260,15 270,16 280,14 290,13 300,15 305,10 320,9 330,9 340,16 345,30 350,76 355,76"/>
</g></svg>
<rect class="sp" x="1472" y="1420.8" width="585" height="584.9"/>
<path class="tk" d="M1498.2 2005.7v7M1573.1 2005.7v7M1648 2005.7v7M1722.9 2005.7v7M1797.8 2005.7v7M1872.7 2005.7v7M1947.6 2005.7v7M2022.5 2005.7v7M1472 2005.7h-7M1472 1935.4h-7M1472 1865.1h-7M1472 1794.8h-7M1472 1724.5h-7M1472 1654.2h-7M1472 1583.9h-7M1472 1513.6h-7M1472 1443.3h-7"/>
<text class="xt" x="1498.2" y="2033.2">0</text><text class="xt" x="1573.1" y="2033.2">50</text><text class="xt" x="1648" y="2033.2">100</text><text class="xt" x="1722.9" y="2033.2">150</text><text class="xt" x="1797.8" y="2033.2">200</text><text class="xt" x="1872.7" y="2033.2">250</text><text class="xt" x="1947.6" y="2033.2">300</text><text class="xt" x="2022.5" y="2033.2">350</text>
<text class="yt" x="1461" y="2013.2">0</text><text class="yt" x="1461" y="1942.9">50</text><text class="yt" x="1461" y="1872.6">100</text><text class="yt" x="1461" y="1802.3">150</text><text class="yt" x="1461" y="1732">200</text><text class="yt" x="1461" y="1661.7">250</text><text class="yt" x="1461" y="1591.4">300</text><text class="yt" x="1461" y="1521.1">350</text><text class="yt" x="1461" y="1450.8">400</text>
<text class="t" x="1764.5" y="1412.8">MB: Mean Wave Direction MAE</text>
<text class="lb" x="1764.5" y="2060.2">Direction [°]</text>
<text class="lb" transform="translate(1402,1713) rotate(-90)" dy="7">MAE [°]</text>
<g transform="translate(1483,1432.3)"><rect class="lb0" width="302" height="100" rx="4"/><rect x="9" y="9" width="43" height="16" fill="#6ad6d9"/><rect x="9" y="40.6" width="43" height="16" fill="#fdbf9f"/><path d="M9 80H52" stroke="#87cefa" stroke-width="4.5"/><text class="lg" x="69.6" y="25">DELWAVE 2070-2100</text><text class="lg" x="69.6" y="56.6">SWAN 2070-2100</text><text class="lg" x="69.6" y="88">MAE DELWAVE</text></g>

<!-- ============ P10 GD period ============ -->
<svg x="109" y="2108" width="577.5" height="585" viewBox="100 -1451 1199 1451" preserveAspectRatio="none"><g transform="scale(1,-1)">
<path class="d" d="M150,0 L150,85 160,85 163,760 172,760 172,1080 182,1080 182,800 195,740 205,730 215,780 225,820 235,730 245,700 260,680 270,650 290,610 300,540 320,490 340,440 360,410 375,370 390,330 410,300 420,270 440,230 460,200 480,160 500,140 520,110 540,70 570,45 600,35 650,20 700,15 800,10 900,5 950,0 Z"/>
<path class="s" d="M160,0 L163,1020 172,1020 172,1380 182,1380 182,810 195,800 200,720 215,720 220,760 230,660 245,700 255,650 270,620 285,600 300,540 315,480 330,440 345,390 360,355 375,320 395,310 410,290 420,280 440,230 455,200 470,175 480,160 500,140 520,110 540,70 560,50 580,40 600,30 650,20 700,15 800,10 900,5 950,0 Z"/>
</g></svg>
<path class="g" d="M157.2 2108V2693M253.5 2108V2693M349.8 2108V2693M446.1 2108V2693M542.4 2108V2693M638.7 2108V2693M109 2612.4H686.5M109 2531.7H686.5M109 2451.1H686.5M109 2370.5H686.5M109 2289.8H686.5M109 2209.2H686.5M109 2128.5H686.5"/>
<svg x="109" y="2108" width="577.5" height="585" viewBox="100 -1451 1199 1451" preserveAspectRatio="none"><g transform="scale(1,-1)">
<polyline class="ln" vector-effect="non-scaling-stroke" points="155,0 163,20 180,25 300,28 400,27 480,35 520,45 560,60 580,72 620,72 630,85 640,100 650,90 660,105 680,105 690,112 720,122 735,133 750,130 760,112 780,105 800,130 820,122 840,122 850,135 860,135 880,105 890,115 900,85 910,140 930,150 940,150 950,118 960,120 975,130 985,195 995,140 1005,258 1020,180 1030,180 1045,135 1060,132 1075,200 1085,100 1100,120 1120,120 1135,0 1160,0 1165,90 1175,90 1185,0 1250,0"/>
</g></svg>
<rect class="sp" x="109" y="2108" width="577.5" height="585"/>
<path class="tk" d="M157.2 2693v7M253.5 2693v7M349.8 2693v7M446.1 2693v7M542.4 2693v7M638.7 2693v7M109 2693h-7M109 2612.4h-7M109 2531.7h-7M109 2451.1h-7M109 2370.5h-7M109 2289.8h-7M109 2209.2h-7M109 2128.5h-7"/>
<text class="xt" x="157.2" y="2720.5">200</text><text class="xt" x="253.5" y="2720.5">400</text><text class="xt" x="349.8" y="2720.5">600</text><text class="xt" x="446.1" y="2720.5">800</text><text class="xt" x="542.4" y="2720.5">1000</text><text class="xt" x="638.7" y="2720.5">1200</text>
<text class="yt" x="98" y="2700.5">0</text><text class="yt" x="98" y="2619.9">200</text><text class="yt" x="98" y="2539.2">400</text><text class="yt" x="98" y="2458.6">600</text><text class="yt" x="98" y="2378">800</text><text class="yt" x="98" y="2297.3">1000</text><text class="yt" x="98" y="2216.7">1200</text><text class="yt" x="98" y="2136">1400</text>
<text class="t" x="397.75" y="2100">GD: Mean Wave Period MAE</text>
<text class="lb" x="397.75" y="2747.5">Period [s]</text>
<text class="lb" transform="translate(27,2400) rotate(-90)" dy="7">MAE [s]</text>
<g transform="translate(373.5,2119.5)"><rect class="lb0" width="302" height="100" rx="4"/><rect x="9" y="9" width="43" height="16" fill="#6ad6d9"/><rect x="9" y="40.6" width="43" height="16" fill="#fdbf9f"/><path d="M9 80H52" stroke="#87cefa" stroke-width="4.5"/><text class="lg" x="69.6" y="25">DELWAVE 2070-2100</text><text class="lg" x="69.6" y="56.6">SWAN 2070-2100</text><text class="lg" x="69.6" y="88">MAE DELWAVE</text></g>

<!-- ============ P11 GD height ============ -->
<svg x="794" y="2108" width="577.6" height="585" viewBox="-0.12 -2.76 2.605 2.76" preserveAspectRatio="none"><g transform="scale(1,-1)">
<path class="d" d="M0,0 L0,2.55 0.025,2.55 0.025,0.49 0.05,0.49 0.05,0.35 0.075,0.35 0.075,0.25 0.1,0.21 0.125,0.2 0.15,0.17 0.2,0.14 0.25,0.12 0.3,0.1 0.35,0.08 0.4,0.06 0.45,0.05 0.5,0.04 0.6,0.03 0.8,0.01 1.0,0.005 1.2,0 Z"/>
<path class="s" d="M0,0 L0,2.62 0.025,2.62 0.025,0.42 0.05,0.42 0.05,0.3 0.075,0.3 0.075,0.24 0.1,0.2 0.125,0.22 0.15,0.18 0.2,0.14 0.25,0.12 0.3,0.1 0.35,0.07 0.4,0.06 0.45,0.05 0.5,0.04 0.6,0.03 0.8,0.01 1.0,0.005 1.2,0 Z"/>
</g></svg>
<path class="g" d="M820.6 2108V2693M931.5 2108V2693M1042.3 2108V2693M1153.2 2108V2693M1264 2108V2693M794 2587H1371.6M794 2481H1371.6M794 2375.1H1371.6M794 2269.1H1371.6M794 2163.1H1371.6"/>
<svg x="794" y="2108" width="577.6" height="585" viewBox="-0.12 -2.76 2.605 2.76" preserveAspectRatio="none"><g transform="scale(1,-1)">
<polyline class="ln" vector-effect="non-scaling-stroke" points="0,0.01 0.25,0.03 0.5,0.04 0.75,0.045 0.9,0.055 1.0,0.06 1.1,0.07 1.2,0.075 1.3,0.08 1.4,0.075 1.5,0.08 1.58,0.09 1.62,0.14 1.65,0.12 1.7,0.11 1.75,0.11 1.78,0.08 1.85,0.1 1.9,0.08 1.94,0.12 1.96,0 1.99,0.12 2.02,0 2.04,0.12 2.1,0.12 2.15,0 2.37,0"/>
</g></svg>
<rect class="sp" x="794" y="2108" width="577.6" height="585"/>
<path class="tk" d="M820.6 2693v7M931.5 2693v7M1042.3 2693v7M1153.2 2693v7M1264 2693v7M794 2693h-7M794 2587h-7M794 2481h-7M794 2375.1h-7M794 2269.1h-7M794 2163.1h-7"/>
<text class="xt" x="820.6" y="2720.5">0.0</text><text class="xt" x="931.5" y="2720.5">0.5</text><text class="xt" x="1042.3" y="2720.5">1.0</text><text class="xt" x="1153.2" y="2720.5">1.5</text><text class="xt" x="1264" y="2720.5">2.0</text>
<text class="yt" x="783" y="2700.5">0.0</text><text class="yt" x="783" y="2594.5">0.5</text><text class="yt" x="783" y="2488.5">1.0</text><text class="yt" x="783" y="2382.6">1.5</text><text class="yt" x="783" y="2276.6">2.0</text><text class="yt" x="783" y="2170.6">2.5</text>
<text class="t" x="1082.8" y="2100">GD: Significant Wave Height MAE</text>
<text class="lb" x="1082.8" y="2747.5">Height [m]</text>
<text class="lb" transform="translate(733,2400) rotate(-90)" dy="7">MAE [m]</text>
<g transform="translate(1058.6,2119.5)"><rect class="lb0" width="302" height="100" rx="4"/><rect x="9" y="9" width="43" height="16" fill="#6ad6d9"/><rect x="9" y="40.6" width="43" height="16" fill="#fdbf9f"/><path d="M9 80H52" stroke="#87cefa" stroke-width="4.5"/><text class="lg" x="69.6" y="25">DELWAVE 2070-2100</text><text class="lg" x="69.6" y="56.6">SWAN 2070-2100</text><text class="lg" x="69.6" y="88">MAE DELWAVE</text></g>

<!-- ============ P12 GD direction ============ -->
<svg x="1479" y="2108" width="578" height="585" viewBox="-15.8 -414.6 388.4 414.6" preserveAspectRatio="none"><g transform="scale(1,-1)">
<path class="d" d="M30,0 L50,8 55,22 60,38 65,50 70,75 75,90 80,102 85,80 90,60 95,35 100,22 105,18 110,15 120,12 130,15 140,18 150,20 160,28 165,65 170,140 175,190 180,272 185,340 188,383 192,370 195,325 200,300 205,235 210,160 215,115 220,65 225,35 230,20 240,12 250,8 300,0 Z"/>
<path class="s" d="M30,0 L40,3 50,10 55,25 60,38 65,50 70,70 75,80 80,125 85,85 90,62 95,48 100,20 110,15 120,10 140,12 160,18 165,90 170,180 175,215 180,240 185,345 190,370 195,395 200,330 205,283 210,233 215,145 220,117 225,45 230,35 235,25 240,30 245,22 250,12 255,8 265,5 280,3 300,0 Z"/>
</g></svg>
<path class="g" d="M1502.5 2108V2693M1576.9 2108V2693M1651.3 2108V2693M1725.7 2108V2693M1800.1 2108V2693M1874.5 2108V2693M1948.9 2108V2693M2023.3 2108V2693M1479 2622.5H2057M1479 2551.9H2057M1479 2481.4H2057M1479 2410.8H2057M1479 2340.3H2057M1479 2269.7H2057M1479 2199.2H2057M1479 2128.6H2057"/>
<svg x="1479" y="2108" width="578" height="585" viewBox="-15.8 -414.6 388.4 414.6" preserveAspectRatio="none"><g transform="scale(1,-1)">
<polyline class="ln" vector-effect="non-scaling-stroke" points="1.5,118 6,165 11,110 15,52 24,52 28,46 35,42 42,32 45,25 52,15 60,12 75,9 85,12 95,16 100,19 110,21 115,26 120,26 130,24 140,25 150,21 155,18 162,10 170,8 180,7 200,7 210,9 220,12 230,17 240,20 245,26 250,34 255,40 265,45 270,40 275,48 280,51 285,52 290,56 295,60 304,60 307,62 310,54 315,87 319,61 323,80 327,116 338,116 341.5,74 346,118 350,196 356,196"/>
</g></svg>
<rect class="sp" x="1479" y="2108" width="578" height="585"/>
<path class="tk" d="M1502.5 2693v7M1576.9 2693v7M1651.3 2693v7M1725.7 2693v7M1800.1 2693v7M1874.5 2693v7M1948.9 2693v7M2023.3 2693v7M1479 2693h-7M1479 2622.5h-7M1479 2551.9h-7M1479 2481.4h-7M1479 2410.8h-7M1479 2340.3h-7M1479 2269.7h-7M1479 2199.2h-7M1479 2128.6h-7"/>
<text class="xt" x="1502.5" y="2720.5">0</text><text class="xt" x="1576.9" y="2720.5">50</text><text class="xt" x="1651.3" y="2720.5">100</text><text class="xt" x="1725.7" y="2720.5">150</text><text class="xt" x="1800.1" y="2720.5">200</text><text class="xt" x="1874.5" y="2720.5">250</text><text class="xt" x="1948.9" y="2720.5">300</text><text class="xt" x="2023.3" y="2720.5">350</text>
<text class="yt" x="1468" y="2700.5">0</text><text class="yt" x="1468" y="2630">50</text><text class="yt" x="1468" y="2559.4">100</text><text class="yt" x="1468" y="2488.9">150</text><text class="yt" x="1468" y="2418.3">200</text><text class="yt" x="1468" y="2347.8">250</text><text class="yt" x="1468" y="2277.2">300</text><text class="yt" x="1468" y="2206.7">350</text><text class="yt" x="1468" y="2136.1">400</text>
<text class="t" x="1768" y="2100">GD: Mean Wave Direction MAE</text>
<text class="lb" x="1768" y="2747.5">Direction [°]</text>
<text class="lb" transform="translate(1411,2400) rotate(-90)" dy="7">MAE [°]</text>
<g transform="translate(1490,2119.5)"><rect class="lb0" width="302" height="100" rx="4"/><rect x="9" y="9" width="43" height="16" fill="#6ad6d9"/><rect x="9" y="40.6" width="43" height="16" fill="#fdbf9f"/><path d="M9 80H52" stroke="#87cefa" stroke-width="4.5"/><text class="lg" x="69.6" y="25">DELWAVE 2070-2100</text><text class="lg" x="69.6" y="56.6">SWAN 2070-2100</text><text class="lg" x="69.6" y="88">MAE DELWAVE</text></g>

</svg>
</body></html>
